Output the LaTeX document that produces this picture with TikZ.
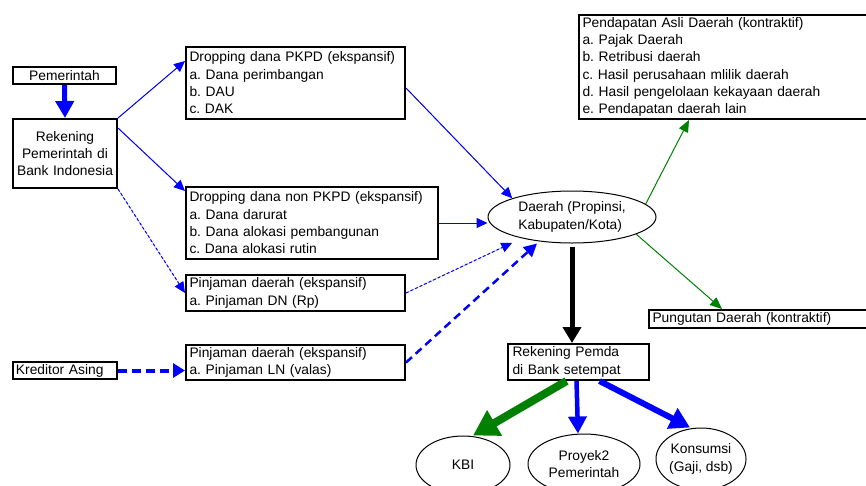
\documentclass[tikz,border=0pt]{standalone}
\usepackage{fontspec}
\setmainfont{Liberation Sans}
\usetikzlibrary{arrows.meta,shapes.geometric}
\definecolor{mblue}{RGB}{0,0,255}
\definecolor{mgreen}{RGB}{0,128,0}
\newcommand\ftx{\fontsize{13.8}{17.3}\selectfont}
\frenchspacing
\begin{document}
\begin{tikzpicture}[x=1pt,y=-1pt,
  box/.style={draw, line width=2pt, inner xsep=3.5pt, inner ysep=0pt, align=left, anchor=north west, font=\ftx},
  ell/.style={draw, ellipse, line width=1pt, inner sep=0pt, align=center, font=\ftx},
  thinarr/.style={draw=mblue, fill=mblue, line width=1pt, -{Triangle[length=11pt,width=10pt]}},
  thindash/.style={thinarr, dash pattern=on 3pt off 2pt},
  lndash/.style={mblue, line width=2.5pt, dash pattern=on 8pt off 5pt, -{Triangle[length=13pt,width=13pt]}},
  kdash/.style={mblue, line width=4pt, dash pattern=on 9pt off 5pt, -{Triangle[length=12pt,width=14pt]}},
  grnarr/.style={mgreen, line width=1pt, -{Triangle[length=12pt,width=10pt]}},
  fatblue/.style={mblue, line width=5pt, -{Triangle[length=17pt,width=18pt]}},
  fatblk/.style={black, line width=5pt, -{Triangle[length=16pt,width=18pt]}},
  fatgrn/.style={mgreen, line width=8pt, -{Triangle[length=25pt,width=28pt]}}
]
\useasboundingbox (0,0) rectangle (866,485);
\clip (0,0) rectangle (866,485);

% boxes
\node[box, align=center, minimum width=103pt, minimum height=17pt, text width=96pt] (pem) at (12,66) {Pemerintah};
\node[box, align=center, inner xsep=2pt, minimum width=104pt, minimum height=69pt, text width=100pt] (rpem) at (12,118) {Rekening\\Pemerintah di\\Bank Indonesia};
\node[box, minimum width=219pt, minimum height=72pt, text width=212pt] (pkpd) at (185,46) {Dropping dana PKPD (ekspansif)\\a. Dana perimbangan\\b. DAU\\c. DAK};
\node[box, minimum width=252pt, minimum height=72pt, text width=245pt] (npkpd) at (185,186) {Dropping dana non PKPD (ekspansif)\\a. Dana darurat\\b. Dana alokasi pembangunan\\c. Dana alokasi rutin};
\node[box, minimum width=219pt, minimum height=36pt, text width=212pt] (pdn) at (185,274) {Pinjaman daerah (ekspansif)\\a. Pinjaman DN (Rp)};
\node[box, minimum width=219pt, minimum height=35pt, text width=212pt] (pln) at (185,344) {Pinjaman daerah (ekspansif)\\a. Pinjaman LN (valas)};
\node[box, inner xsep=3pt, minimum width=104pt, minimum height=17pt, text width=98pt] (kred) at (12,361) {Kreditor Asing};
\node[box, minimum width=292pt, minimum height=104pt, text width=285pt] (pad) at (578,14) {Pendapatan Asli Daerah (kontraktif)\\a. Pajak Daerah\\b. Retribusi daerah\\c. Hasil perusahaan mlilik daerah\\d. Hasil pengelolaan kekayaan daerah\\e. Pendapatan daerah lain};
\node[box, minimum width=222pt, minimum height=18pt, text width=215pt] (pung) at (648,309) {Pungutan Daerah (kontraktif)};
\node[box, inner xsep=4.5pt, minimum width=141pt, minimum height=36pt, text width=132pt] (rpemda) at (507,343) {Rekening Pemda\\di Bank setempat};

% ellipses
\node[ell, align=left, minimum width=168pt, minimum height=52pt] (daerah) at (572,217) {Daerah (Propinsi,\\Kabupaten/Kota)};
\node[ell, minimum width=94pt, minimum height=58pt] (kbi) at (463,465) {KBI};
\node[ell, minimum width=112pt, minimum height=60pt] (proy) at (584,464) {Proyek2\\Pemerintah};
\node[ell, minimum width=88pt, minimum height=62pt] (kons) at (701,459) {Konsumsi\\(Gaji, dsb)};

% connectors
\draw[fatblue] (pem.south) -- (rpem.north);
\draw[thinarr] (rpem.north east) -- ([yshift=22pt]pkpd.west);
\draw[thinarr] ([yshift=-10pt]rpem.north east) -- ([yshift=32pt]npkpd.west);
\draw[thindash] (rpem.south east) -- (pdn.west);
\draw[kdash] (kred.east) -- (kred.east -| pln.west);

\draw[thinarr] ([yshift=-5pt]pkpd.east) -- (daerah.north west);
\coordinate (dw) at ([yshift=-5pt]daerah.west);
\draw[thinarr] (npkpd.east) -- (npkpd.east -| dw);
\draw[thindash] (pdn.east) -- ([yshift=-7pt]daerah.south west);
\draw[lndash] (pln.east) -- ([xshift=-35pt]daerah.south);

\draw[grnarr] (daerah.10) -- ([xshift=111pt]pad.south west);
\draw[grnarr] (daerah.-15) -- ([xshift=74pt]pung.north west);

\draw[fatblk, shorten <=3pt] (daerah.south) -- (daerah.south |- rpemda.north);

\draw[fatgrn] ([xshift=-12pt]rpemda.south) -- ([xshift=10pt]kbi.north);
\draw[mblue, line width=4.5pt, -{Triangle[length=17pt,width=18pt]}] ([xshift=-2pt]rpemda.south) -- ([xshift=-6pt]proy.north);
\draw[mblue, line width=6pt, -{Triangle[length=20pt,width=22pt]}] ([xshift=21pt]rpemda.south) -- ([xshift=-11pt]kons.north);
\end{tikzpicture}
\end{document}
